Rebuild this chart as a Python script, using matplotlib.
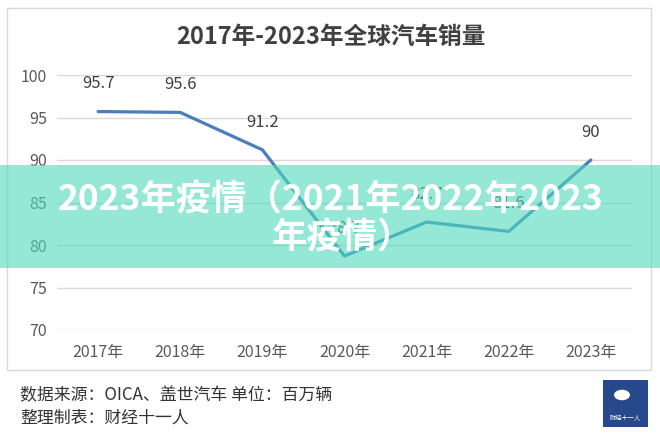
import numpy as np
import matplotlib.pyplot as plt
from matplotlib.patches import Rectangle, Circle

plt.rcParams['font.family'] = ['Noto Sans CJK SC', 'DejaVu Sans']

# 数据
years = ["2017年", "2018年", "2019年", "2020年", "2021年", "2022年", "2023年"]
sales = [95.7, 95.6, 91.2, 78.7, 82.7, 81.6, 90]
labels = ["95.7", "95.6", "91.2", "78.7", "82.7", "81.6", "90"]
yticks = [70, 75, 80, 85, 90, 95, 100]

title = "2017年-2023年全球汽车销量"
overlay_line1 = "2023年疫情（2021年2022年2023"
overlay_line2 = "年疫情）"
source = "数据来源：OICA、盖世汽车 单位：百万辆"
maker = "整理制表：财经十一人"

W, H = 660, 434
fig = plt.figure(figsize=(W / 100, H / 100), dpi=100)
fig.patch.set_facecolor("white")

# 外框
fig.patches.append(Rectangle((7 / W, 1 - 370 / H), (651 - 7) / W, (370 - 8) / H,
                             transform=fig.transFigure, fill=False,
                             edgecolor="#d9d9d9", lw=1))

ax = fig.add_axes([57 / W, 1 - 330 / H, (632 - 57) / W, (330 - 75) / H])
x = np.arange(len(years))
ax.plot(x, sales, color="#4a7ebb", lw=2.3, solid_capstyle="round", zorder=3)
for xi, yi, t in zip(x, sales, labels):
    ax.annotate(t, (xi, yi), xytext=(0, 20), textcoords="offset points",
                ha="center", va="center", fontsize=12, color="#404040")

ax.set_xlim(-0.5, len(years) - 0.5)
ax.set_ylim(70, 100)
ax.set_yticks(yticks)
ax.set_xticks(x)
ax.set_xticklabels(years)
ax.grid(axis="y", color="#d9d9d9", lw=1)
ax.set_axisbelow(True)
for s in ax.spines.values():
    s.set_visible(False)
ax.tick_params(axis="both", length=0, labelsize=11.5, colors="#595959")
ax.tick_params(axis="x", pad=10)
ax.tick_params(axis="y", pad=7)

fig.text(331 / W, 1 - 37 / H, title, ha="center", va="center",
         fontsize=17, fontweight="bold", color="#404040")

# 半透明横幅
fig.patches.append(Rectangle((0, 1 - 268 / H), 1, (268 - 165) / H,
                             transform=fig.transFigure, facecolor="#4fd9bb",
                             alpha=0.6, edgecolor="none", zorder=5))
fig.text(331 / W, 1 - 200 / H, overlay_line1, ha="center", va="center",
         fontsize=25.5, fontweight="bold", color="white", zorder=6)
fig.text(272 / W, 1 - 238 / H, overlay_line2, ha="left", va="center",
         fontsize=25.5, fontweight="bold", color="white", zorder=6)

# 底部说明
fig.text(20 / W, 1 - 395 / H, source, ha="left", va="center",
         fontsize=12.2, color="#333333")
fig.text(20 / W, 1 - 418 / H, maker, ha="left", va="center",
         fontsize=12.2, color="#333333")

# 标志
fig.patches.append(Rectangle((603 / W, 1 - 427 / H), 45 / W, 47 / H,
                             transform=fig.transFigure, facecolor="#27488a",
                             edgecolor="none"))
fig.patches.append(Circle((622 / W, 1 - 395 / H), 8 / W,
                          transform=fig.transFigure, facecolor="white",
                          edgecolor="none"))
fig.text(625.5 / W, 1 - 418 / H, "财经十一人", ha="center", va="center",
         fontsize=4.5, color="white")

fig.savefig("out.png", dpi=100)
